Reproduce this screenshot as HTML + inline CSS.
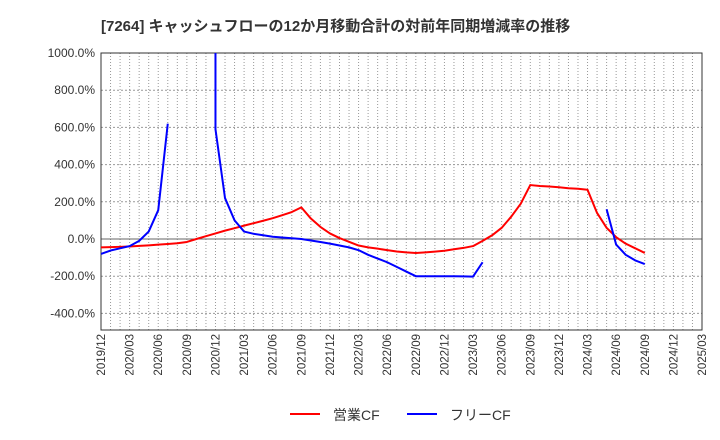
<!DOCTYPE html>
<html><head><meta charset="utf-8"><style>
body{margin:0;background:#fff;}
svg{display:block;font-family:"Liberation Sans","Noto Sans CJK JP",sans-serif;}
</style></head><body>
<svg id="chart" width="720" height="440" xmlns="http://www.w3.org/2000/svg">
<text x="101" y="31" font-size="15" font-weight="bold" fill="#333">[7264]  キャッシュフローの12か月移動合計の対前年同期増減率の推移</text>
<g id="grid"></g>
<g id="yaxis"></g>
<g id="xaxis"></g>
<g id="series" clip-path="url(#clip)"></g>
<defs><clipPath id="clip"><rect x="101" y="53" width="601" height="277"/></clipPath></defs>
<g>
<line x1="290" y1="414" x2="320" y2="414" stroke="#f00" stroke-width="2"/>
<text x="333" y="420" font-size="14" fill="#333">営業CF</text>
<line x1="407" y1="414" x2="437" y2="414" stroke="#00f" stroke-width="2"/>
<text x="450" y="420" font-size="14" fill="#333">フリーCF</text>
</g>
</svg>
<script>
const xLabels=["2019/12","2020/03","2020/06","2020/09","2020/12","2021/03","2021/06","2021/09","2021/12","2022/03","2022/06","2022/09","2022/12","2023/03","2023/06","2023/09","2023/12","2024/03","2024/06","2024/09","2024/12","2025/03"];
const yTicks=[1000,800,600,400,200,0,-200,-400];
const opCF=[-45,-44,-42,-40,-37,-34,-30,-27,-23,-16,0,15,30,45,58,72,85,98,112,128,145,170,110,65,30,5,-15,-35,-45,-52,-60,-67,-72,-75,-72,-68,-63,-55,-48,-38,-10,20,60,120,190,290,285,282,278,273,270,265,140,60,10,-25,-50,-75];
const freeSeg1Idx=[0,1,2,3,4,5,6,7];
const freeSeg1Val=[-80,-62,-50,-38,-10,40,155,620];
const freeSeg2Idx=[12,12,13,14,15,16,17,18,19,20,21,22,23,24,25,26,27,28,29,30,31,32,33,34,35,36,37,38,39,40];
const freeSeg2Val=[1500,590,220,100,40,28,20,12,8,4,0,-8,-16,-25,-35,-45,-60,-85,-105,-125,-150,-175,-200,-200,-200,-200,-200,-201,-202,-125];
const freeSeg3Idx=[53,54,55,56,57];
const freeSeg3Val=[160,-30,-85,-115,-135];

const X0=101,X1=702,Y0=53,Y1=330,months=63;
const xs=i=>X0+i*(X1-X0)/months;
const ys=v=>239-v*0.186;
const NS="http://www.w3.org/2000/svg";
function mk(tag,attrs,parent){const e=document.createElementNS(NS,tag);for(const k in attrs)e.setAttribute(k,attrs[k]);parent.appendChild(e);return e;}
const grid=document.getElementById('grid'),ya=document.getElementById('yaxis'),xa=document.getElementById('xaxis'),ser=document.getElementById('series');
for(let i=1;i<months;i++){const l=mk('line',{x1:xs(i),x2:xs(i),y1:Y0,y2:Y1,stroke:'#999','stroke-dasharray':'1,2','stroke-width':1},grid);

}
yTicks.forEach(v=>{const y=ys(v);
const l=mk('line',{x1:X0,x2:X1,y1:y,y2:y,stroke:v===0?'#666':'#999','stroke-dasharray':v===0?'none':'2,2','stroke-width':1},grid);


const t=mk('text',{x:X0-6,y:y+4,'text-anchor':'end','font-size':12,fill:'#333'},ya);t.textContent=v.toFixed(1)+'%';

});
const fr=mk('rect',{x:X0,y:Y0,width:X1-X0,height:Y1-Y0,fill:'none',stroke:'#333','stroke-width':1},grid);


xLabels.forEach((s,k)=>{const x=xs(k*3);
const t=mk('text',{x:0,y:0,transform:`translate(${x+4},${Y1+4}) rotate(-90)`,'text-anchor':'end','font-size':11.5,fill:'#333'},xa);t.textContent=s;

});
function line(idx,vals,color,name){const p=mk('polyline',{points:idx.map((i,k)=>xs(i)+','+ys(vals[k])).join(' '),fill:'none',stroke:color,'stroke-width':2,'stroke-linejoin':'round'},ser);

}
line(opCF.map((_,i)=>i),opCF,'#f00','operating-cf-line');
line(freeSeg1Idx,freeSeg1Val,'#00f','free-cf-line-1');
line(freeSeg2Idx,freeSeg2Val,'#00f','free-cf-line-2');
line(freeSeg3Idx,freeSeg3Val,'#00f','free-cf-line-3');
</script>
</body></html>
